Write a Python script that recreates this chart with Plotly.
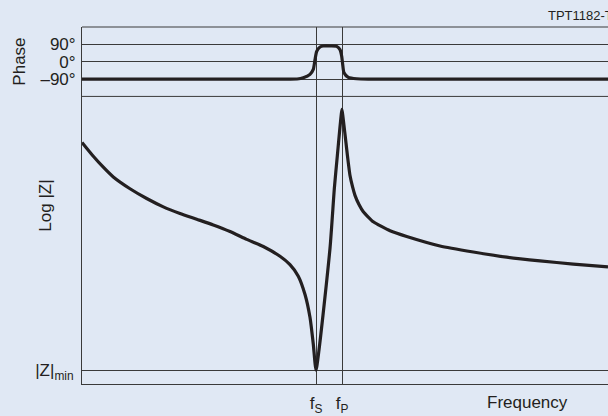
import plotly.graph_objects as go

# ---- data (arbitrary frequency units 0..100, log|Z| arbitrary units 0..100) ----
f_s = 44.49
f_p = 49.43
z_min = 4.83

phase_freq = [0.0, 38.0, 40.9, 42.07, 43.35, 43.97, 44.30, 44.62, 45.25, 45.87, 47.2, 48.42, 49.05, 49.37,
              49.56, 49.81, 50.63, 52.22, 55.0, 100.0]
phase_deg = [-90, -90, -89.5, -83.3, -65.8, -40.1, 11.3, 54.0, 76.1, 81.3, 81.5, 79.7, 62.7, 28.3,
             -14.4, -57.6, -81.3, -88.5, -90, -90]

z_freq = [0.00, 2.15, 4.05, 5.95, 9.13, 12.30, 15.46, 18.63, 21.81, 24.96, 28.14, 31.31, 34.47, 37.64,
          39.54, 41.12, 42.40, 43.35, 43.97, 44.49,
          47.15, 47.97, 48.54, 49.43,
          49.62, 49.81, 50.06, 50.32, 50.63, 50.95, 51.43, 51.90, 52.66, 53.48, 55.38, 58.56, 61.73,
          68.06, 74.39, 80.74, 87.07, 93.40, 100.0]
log_z = [84.0, 79.2, 75.4, 72.0, 67.9, 64.5, 61.6, 59.3, 57.3, 55.3, 53.0, 50.3, 47.8, 44.4,
         41.5, 37.5, 31.1, 23.1, 13.9, 4.83,
         47.2, 67.9, 79.3, 95.5,
         92.8, 89.8, 85.9, 81.7, 76.9, 72.5, 68.6, 65.6, 62.4, 59.9, 56.4, 53.3, 51.3,
         48.0, 45.9, 44.1, 42.8, 41.7, 40.7]

x_ticks = [f_s, f_p]
x_ticktext = ["f<sub>S</sub>", "f<sub>P</sub>"]
phase_ticks = [90, 0, -90]
phase_ticktext = ["90°", "0°", "–90°"]
z_ticks = [z_min]
z_ticktext = ["|Z|<sub>min</sub>"]

BG = "rgb(224,232,244)"
INK = "#231f20"
GRID = "#3a3a3a"
FONT = "Liberation Sans"
split = (387 - 97) / 360

fig = go.Figure()
fig.add_trace(go.Scatter(x=phase_freq, y=phase_deg, xaxis="x", yaxis="y", mode="lines",
                         line=dict(color=INK, width=3.2, shape="spline", smoothing=0.6),
                         hoverinfo="skip", showlegend=False))
fig.add_trace(go.Scatter(x=z_freq, y=log_z, xaxis="x", yaxis="y2", mode="lines",
                         line=dict(color=INK, width=3.2, shape="spline", smoothing=0.5),
                         hoverinfo="skip", showlegend=False))

fig.update_layout(
    width=608, height=416,
    margin=dict(l=82, r=0, t=27, b=29, pad=0),
    paper_bgcolor=BG, plot_bgcolor=BG,
    font=dict(family=FONT, size=17, color=INK),
    xaxis=dict(domain=[0, 1], range=[0, 100], anchor="y2", showline=True, linecolor=GRID, linewidth=1,
               tickvals=x_ticks, ticktext=x_ticktext, ticks="", showgrid=True, gridcolor=GRID, gridwidth=1,
               zeroline=False, fixedrange=True, ticklabelstandoff=4),
    yaxis=dict(domain=[split, 1], range=[-180, 180], anchor="x", showline=True, linecolor=GRID, linewidth=1,
               tickvals=phase_ticks, ticktext=phase_ticktext, ticks="", showgrid=True, gridcolor=GRID,
               gridwidth=1, zeroline=False, fixedrange=True, ticklabelstandoff=2),
    yaxis2=dict(domain=[0, split], range=[0, 100], anchor="x", showline=True, linecolor=GRID, linewidth=1,
                tickvals=z_ticks, ticktext=z_ticktext, ticks="", showgrid=True, gridcolor=GRID,
                gridwidth=1, zeroline=False, fixedrange=True, ticklabelstandoff=4),
    shapes=[
        dict(type="line", xref="x domain", yref="y domain", x0=0, x1=1, y0=1, y1=1,
             line=dict(color=GRID, width=1)),
        dict(type="line", xref="x domain", yref="y domain", x0=0, x1=1, y0=0, y1=0,
             line=dict(color=GRID, width=1)),
    ],
    annotations=[
        dict(text="Phase", textangle=-90, xref="paper", yref="y domain", x=-0.118, y=0.5,
             xanchor="center", yanchor="middle", showarrow=False, font=dict(size=17)),
        dict(text="Log |Z|", textangle=-90, xref="paper", yref="paper", x=-0.070, y=(387 - 207) / 360,
             xanchor="center", yanchor="middle", showarrow=False, font=dict(size=17)),
        dict(text="Frequency", xref="paper", yref="paper", x=(527 - 82) / 526, y=(387 - 406) / 360,
             xanchor="center", yanchor="middle", showarrow=False, font=dict(size=17)),
        dict(text="TPT1182-T", xref="paper", yref="paper", x=(546 - 82) / 526, y=(387 - 15) / 360,
             xanchor="left", yanchor="middle", showarrow=False, font=dict(size=13)),
    ],
)

fig.write_html("out.html", config={"displayModeBar": False},
               post_script="document.body.style.margin='0px';document.body.style.overflow='hidden';")
